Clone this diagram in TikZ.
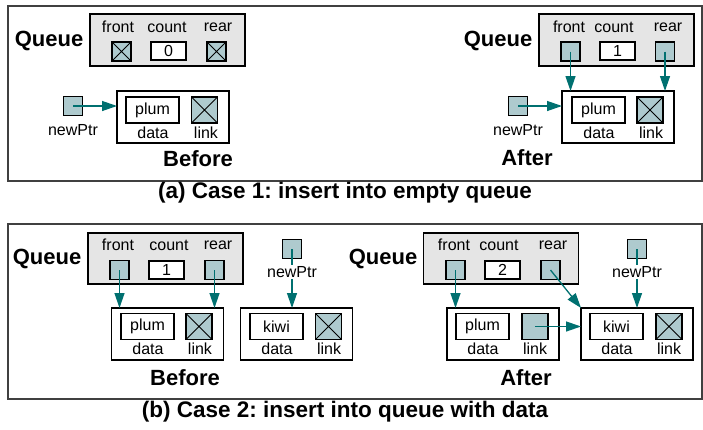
\documentclass[tikz,border=0pt]{standalone}
\usepackage{fontspec}
\setmainfont{Liberation Sans}
\usetikzlibrary{arrows.meta}
\definecolor{ptrfill}{RGB}{174,202,206}
\definecolor{ptrline}{RGB}{0,112,112}
\definecolor{qfill}{RGB}{229,229,229}
\frenchspacing
\tikzset{
    every node/.style={inner sep=0pt, outer sep=0pt},
    frame/.style={draw=black!75, line width=1.4pt},
    qbox/.style={draw, fill=qfill, line width=1.2pt, minimum width=155pt, minimum height=52pt},
    ptr/.style={draw, fill=ptrfill, line width=1.2pt, minimum size=19pt},
    nullptr/.style={ptr, path picture={
        \draw[line width=0.8pt] (path picture bounding box.south west) -- (path picture bounding box.north east)
            (path picture bounding box.north west) -- (path picture bounding box.south east);}},
    cnt/.style={draw, fill=white, line width=1.2pt, minimum width=35pt, minimum height=18pt, font=\fontsize{16}{18}\selectfont},
    qnode/.style={draw, fill=white, line width=1.2pt, minimum width=112pt, minimum height=52pt},
    databox/.style={draw, fill=white, line width=1.2pt, minimum width=53pt, minimum height=26pt, font=\fontsize{16}{18}\selectfont},
    linkbox/.style={ptr, minimum size=26pt},
    nulllink/.style={nullptr, minimum size=26pt},
    lbl/.style={font=\fontsize{16}{18}\selectfont},
    ptrname/.style={lbl, fill=white, inner sep=1pt},
    title/.style={font=\fontsize{22}{24}\selectfont\bfseries},
    caption/.style={font=\fontsize{22.5}{24}\selectfont\bfseries},
    link/.style={draw=ptrline, line width=1.3pt, -{Triangle[length=15pt,width=10pt]}},
}
\begin{document}
\begin{tikzpicture}[x=1pt, y=-1pt]
    \useasboundingbox (0,0) rectangle (703,429);
    \draw[frame] (8,6) rectangle (702,181);
    \draw[frame] (8,224) rectangle (702,399);
    \node[caption] (capA) at (345,193) {(a) Case 1: insert into empty queue};
    \node[caption] (capB) at (345,412) {(b) Case 2: insert into queue with data};

    % (a) before
    \node[title] (aqt) at (49,41) {Queue};
    \node[qbox] (aq) at (167.5,40) {};
    \node[lbl] at (118,27) {front};
    \node[lbl] at (167,27) {count};
    \node[lbl] at (218,27) {rear};
    \node[nullptr] (aqf) at (121.5,51.5) {};
    \node[cnt] (aqc) at (168.5,51) {0};
    \node[nullptr] (aqr) at (216.5,51.5) {};
    \node[qnode] (an) at (173,117) {};
    \node[databox] (and) at (152.5,110) {plum};
    \node[nulllink] (anl) at (204.5,110) {};
    \node[lbl] at (153,133) {data};
    \node[lbl] at (206,133) {link};
    \node[ptr] (anp) at (73,106) {};
    \node[title] at (198,159) {Before};
    \draw[link] (anp.center) -- (an.west |- anp.center);
    \node[ptrname] at (73,130) {newPtr};

    % (a) after
    \node[title] (bqt) at (498,41) {Queue};
    \node[qbox] (bq) at (616.5,40) {};
    \node[lbl] at (569,27) {front};
    \node[lbl] at (614,27) {count};
    \node[lbl] at (668,27) {rear};
    \node[ptr] (bqf) at (570.5,51.5) {};
    \node[cnt] (bqc) at (617.5,51) {1};
    \node[ptr] (bqr) at (665,51.5) {};
    \node[qnode] (bn) at (618,117) {};
    \node[databox] (bnd) at (598.5,110) {plum};
    \node[nulllink] (bnl) at (650,110) {};
    \node[lbl] at (599,133) {data};
    \node[lbl] at (651,133) {link};
    \node[ptr] (bnp) at (518,106) {};
    \node[title] at (527,158) {After};
    \draw[link] (bqf.center) -- (bqf.center |- bn.north);
    \draw[link] (bqr.center) -- (bqr.center |- bn.north);
    \draw[link] (bnp.center) -- (bn.west |- bnp.center);
    \node[ptrname] at (518,130) {newPtr};

    % (b) before
    \node[title] (cqt) at (47,259) {Queue};
    \node[qbox, minimum height=51pt] (cq) at (165.5,258.5) {};
    \node[lbl] at (118,245) {front};
    \node[lbl] at (169,245) {count};
    \node[lbl] at (218,245) {rear};
    \node[ptr] (cqf) at (119.5,270) {};
    \node[cnt] (cqc) at (166.5,270) {1};
    \node[ptr] (cqr) at (214.5,270) {};
    \node[qnode] (cn) at (167.5,334) {};
    \node[databox] (cnd) at (147.5,326.5) {plum};
    \node[nulllink] (cnl) at (199,326.5) {};
    \node[lbl] at (148,349) {data};
    \node[lbl] at (200,349) {link};
    \node[qnode] (cm) at (296.5,334) {};
    \node[databox] (cmd) at (276.5,326.5) {kiwi};
    \node[nulllink] (cml) at (328.5,326.5) {};
    \node[lbl] at (277,349) {data};
    \node[lbl] at (329,349) {link};
    \node[ptr] (cnp) at (292,249) {};
    \node[title] at (185,378) {Before};
    \draw[link] (cqf.center) -- (cqf.center |- cn.north);
    \draw[link] (cqr.center) -- (cqr.center |- cn.north);
    \draw[link] (cnp.center) -- (cnp.center |- cm.north);
    \node[ptrname] at (292,272) {newPtr};

    % (b) after
    \node[title] (dqt) at (383,259) {Queue};
    \node[qbox, minimum height=51pt] (dq) at (501,258.5) {};
    \node[lbl] at (454,245) {front};
    \node[lbl] at (499,245) {count};
    \node[lbl] at (553,245) {rear};
    \node[ptr] (dqf) at (455.5,270) {};
    \node[cnt] (dqc) at (502.5,270) {2};
    \node[ptr] (dqr) at (550.5,270) {};
    \node[qnode] (dn) at (503,334) {};
    \node[databox] (dnd) at (482.5,326.5) {plum};
    \node[linkbox] (dnl) at (535,326.5) {};
    \node[lbl] at (483,349) {data};
    \node[lbl] at (535,349) {link};
    \node[qnode] (dm) at (637,334) {};
    \node[databox] (dmd) at (616.5,326.5) {kiwi};
    \node[nulllink] (dml) at (669,326.5) {};
    \node[lbl] at (617,349) {data};
    \node[lbl] at (669,349) {link};
    \node[ptr] (dnp) at (637,249) {};
    \node[title] at (526,378) {After};
    \draw[link] (dqf.center) -- (dqf.center |- dn.north);
    \draw[link] (dqr.center) -- (dm.north west);
    \draw[link] (dnl.center) -- (dnl.center -| dm.west);
    \draw[link] (dnp.center) -- (dnp.center |- dm.north);
    \node[ptrname] at (637,272) {newPtr};
\end{tikzpicture}
\end{document}
